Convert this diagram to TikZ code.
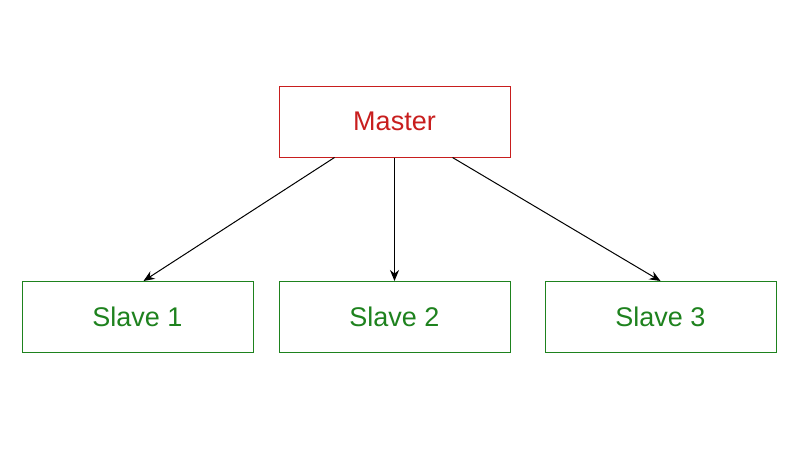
\documentclass[tikz,border=0pt]{standalone}
\usepackage{fontspec}
\usetikzlibrary{arrows.meta}
\setmainfont{Liberation Sans}
\definecolor{mred}{RGB}{200,30,30}
\definecolor{sgreen}{RGB}{30,130,30}
\begin{document}
\begin{tikzpicture}[x=1pt,y=-1pt,
  box/.style={draw,minimum width=231pt,minimum height=71pt,inner sep=0pt,font=\fontsize{27}{30}\selectfont,line width=1pt},
  arr/.style={draw=black,line width=1pt,-{Stealth[length=11pt,width=9pt]}}]
\useasboundingbox (0,0) rectangle (800,450);
\node[box,draw=mred,text=mred] (m) at (394.5,121.5) {Master};
\node[box,draw=sgreen,text=sgreen] (s1) at (137.5,317) {Slave 1};
\node[box,draw=sgreen,text=sgreen] (s2) at (394.5,317) {Slave 2};
\node[box,draw=sgreen,text=sgreen] (s3) at (660.5,317) {Slave 3};
\draw[arr] ([xshift=56pt]m.south west) -- ([xshift=6pt]s1.north);
\draw[arr] (m.south) -- (s2.north);
\draw[arr] ([xshift=-58pt]m.south east) -- (s3.north);
\end{tikzpicture}
\end{document}
